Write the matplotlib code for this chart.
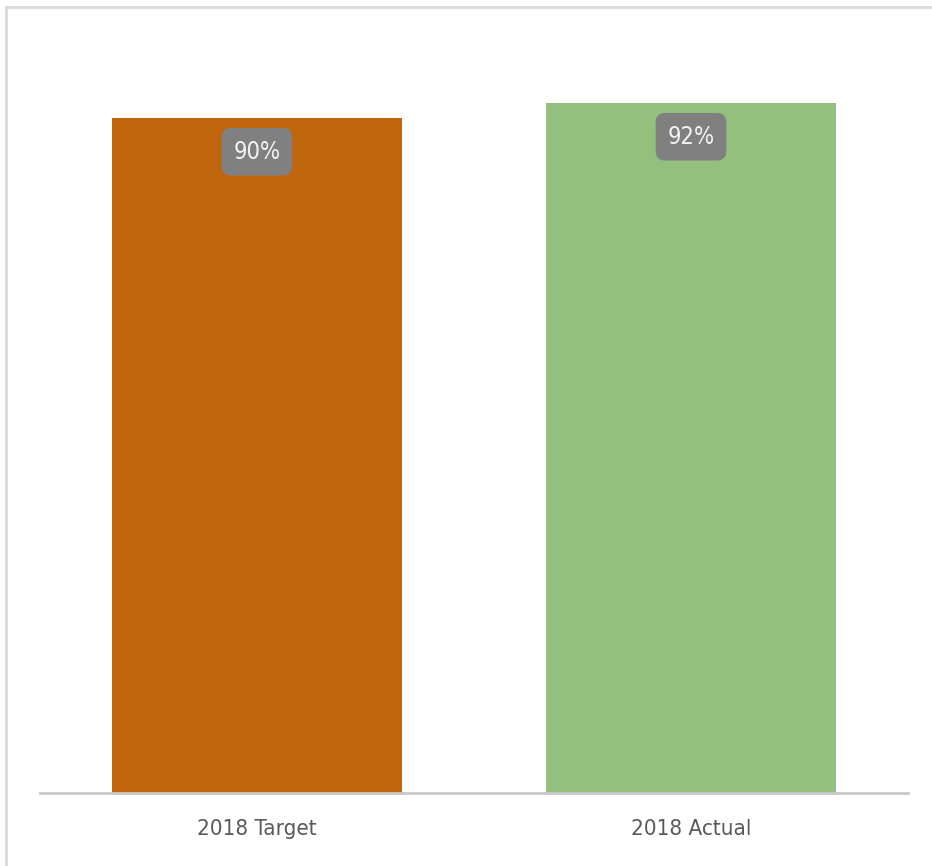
import matplotlib.pyplot as plt
from matplotlib.lines import Line2D

categories = ['2018 Target', '2018 Actual']
values = [0.90, 0.92]
labels = ['90%', '92%']
colors = ['#C0670E', '#93C17D']

plt.rcParams['font.family'] = ['DejaVu Sans']
plt.rcParams['font.stretch'] = 'condensed'

fig = plt.figure(figsize=(9.32, 8.66), dpi=100)
# light gray frame, only top and left edges show in the crop
fig.lines.append(Line2D([6 / 932, 6 / 932], [0, (866 - 7) / 866],
                        transform=fig.transFigure, color='#d9d9d9', linewidth=2))
fig.lines.append(Line2D([6 / 932, 1.01], [(866 - 7) / 866, (866 - 7) / 866],
                        transform=fig.transFigure, color='#d9d9d9', linewidth=2))

ax = fig.add_axes([40 / 932, 73 / 866, 868 / 932, 750 / 866])
x = range(len(categories))
ax.bar(x, values, width=0.668, color=colors)
ax.set_xlim(-0.5, 1.5)
ax.set_ylim(0, 1.0)

# data labels in gray rounded boxes
for i, v in enumerate(values):
    ax.text(i, v - 0.045, labels[i], ha='center', va='center', fontsize=17,
            color='#f2f2f2', fontstretch='condensed',
            bbox=dict(boxstyle='round,pad=0.5,rounding_size=0.4',
                      facecolor='#808080', edgecolor='none'))

ax.set_xticks(list(x))
ax.set_xticklabels(categories, fontsize=16, color='#595959', fontstretch='condensed')
ax.tick_params(axis='x', length=0, pad=19)
ax.set_yticks([])
for side in ['top', 'right', 'left']:
    ax.spines[side].set_visible(False)
ax.spines['bottom'].set_color('#c8c8c8')
ax.spines['bottom'].set_linewidth(2)

fig.savefig('out.png', dpi=100)
